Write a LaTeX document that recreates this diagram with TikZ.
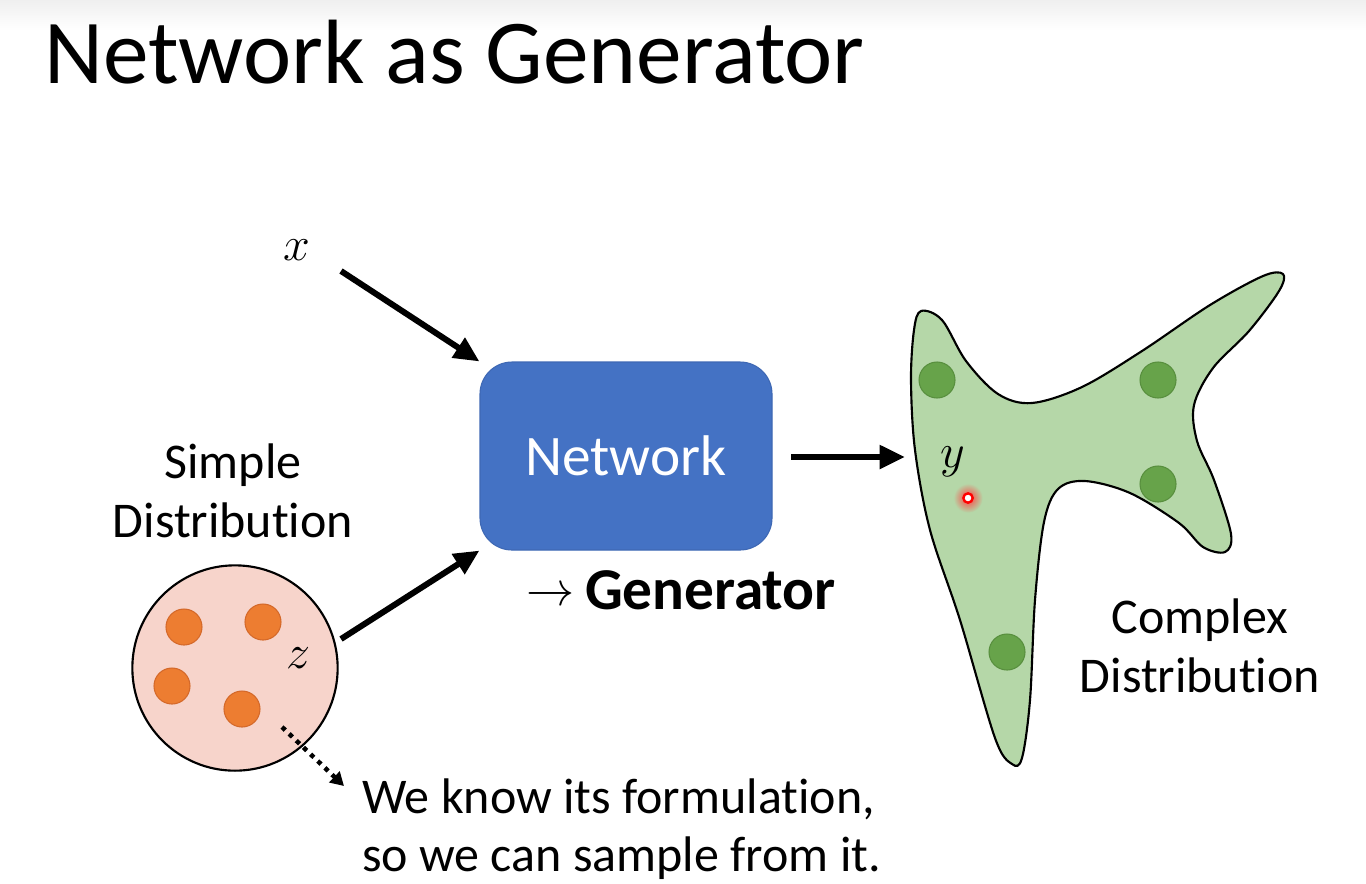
\documentclass[tikz,border=0pt]{standalone}
\usepackage{graphicx}
\usepackage{fontspec}
\setmainfont[Ligatures=NoCommon]{Carlito}
\usetikzlibrary{arrows.meta}

\definecolor{netblue}{HTML}{4472C4}
\definecolor{netedge}{HTML}{3E68B4}
\definecolor{pinkfill}{HTML}{F7D4CB}
\definecolor{orangedot}{HTML}{ED7D31}
\definecolor{orangeedge}{HTML}{D4692A}
\definecolor{greenfill}{HTML}{B5D7A8}
\definecolor{greendot}{HTML}{67A34A}
\definecolor{greenedge}{HTML}{588F3E}
\definecolor{bandgray}{HTML}{EFEFEF}

% math letters drawn larger than the fixed-size math fonts allow
\newcommand{\bigmath}[1]{\scalebox{1.45}{\fontsize{24.88}{26}\selectfont$#1$}}

\tikzset{
  bigarrow/.style={line width=4.5pt, -{Triangle[length=19pt,width=17pt]}},
  dotarrow/.style={line width=3.4pt, dash pattern=on 3.4pt off 4pt, -{Triangle[length=10pt,width=11pt]}},
  bodytext/.style={font=\fontsize{37.5}{44}\selectfont, inner sep=0pt},
  mathlabel/.style={inner sep=0pt},
  orangedotstyle/.style={circle, fill=orangedot, draw=orangeedge, line width=0.8pt, minimum size=27pt, inner sep=0pt},
  greendotstyle/.style={circle, fill=greendot, draw=greenedge, line width=0.8pt, minimum size=27pt, inner sep=0pt},
}

\begin{document}
\begin{tikzpicture}[x=0.75pt, y=-0.75pt]
  % page and the light band along its top edge
  \useasboundingbox (0,0) rectangle (1366,883);
  \fill[white] (0,0) rectangle (1366,883);
  \shade[top color=bandgray, bottom color=white] (0,0) rectangle (1366,30);

  % title
  \node[anchor=base west, inner sep=0pt, font=\fontsize{68.5}{70}\selectfont] (title) at (44,83) {Network as Generator};

  % the network block
  \node[rounded corners=24pt, fill=netblue, draw=netedge, line width=0.8pt,
        minimum width=219pt, minimum height=141pt, inner sep=0pt,
        text=white, font=\fontsize{43}{45}\selectfont] (net) at (626,456) {Network};
  \node[anchor=base west, inner sep=0pt, font=\fontsize{44.5}{46}\selectfont] (gen) at (526,609)
       {\raisebox{3pt}{\scalebox{1.45}{\fontsize{24.88}{26}\selectfont$\rightarrow$}}\hspace{8pt}\textbf{Generator}};

  % input x
  \node[mathlabel] (x) at (297,250) {\bigmath{x}};
  \coordinate (xstart) at (341,271);
  \draw[bigarrow] (xstart) -- (net.north west);

  % simple distribution
  \node[bodytext, align=center] (simple) at (233,491) {Simple\\Distribution};
  \node[circle, fill=pinkfill, draw=black, line width=1.6pt, minimum size=154pt, inner sep=0pt] (dist) at (235,668) {};
  \node[orangedotstyle] (o1) at (184,627) {};
  \node[orangedotstyle] (o2) at (263,622) {};
  \node[orangedotstyle] (o3) at (172,686) {};
  \node[orangedotstyle] (o4) at (242,709) {};
  \node[mathlabel] (z) at (299,658) {\bigmath{z}};
  \coordinate (zstart) at (341,639);
  \draw[bigarrow] (zstart) -- (net.south west);

  % note on sampling
  \coordinate (dotstart) at (282,727);
  \coordinate (dotend) at (344,786);
  \node[bodytext, align=left, anchor=north west] (note) at (362,778)
       {We know its formulation,\\so we can sample from it.};
  \draw[dotarrow] (dotstart) -- (dotend);

  % output arrow
  \coordinate (outstart) at (791,457);
  \coordinate (outend) at (905,457);
  \draw[bigarrow] (outstart) -- (outend);

  % complex distribution
  \draw[fill=greenfill, line width=1.6pt, line join=round]
    plot[smooth cycle, tension=0.55] coordinates {
      (921,311) (942,320) (966,361) (998,394) (1032,403) (1082,387)
      (1142,351) (1210,305) (1263,276) (1283,274) (1279,291) (1249,331)
      (1213,368) (1194,405) (1197,441) (1214,480) (1231,534) (1225,552)
      (1203,547) (1179,523) (1130,493) (1085,481) (1058,489) (1044,522)
      (1035,600) (1030,700) (1022,758) (1012,764) (995,738) (960,620)
      (930,530) (915,450) (911,380) (914,330)
    };
  \node[greendotstyle] (g1) at (937,380) {};
  \node[greendotstyle] (g2) at (1158,380) {};
  \node[greendotstyle] (g3) at (1158,484) {};
  \node[greendotstyle] (g4) at (1007,652) {};
  \node[mathlabel] (y) at (953,462) {\bigmath{y}};

  % sampled point with its glow
  \shade[inner color=red!75, outer color=greenfill] (968,498) circle (11pt);
  \node[circle, fill=white, draw=red, line width=1.8pt, minimum size=7pt, inner sep=0pt] (ypt) at (968,498) {};

  \node[bodytext, align=center] (complex) at (1200,646) {Complex\\Distribution};
\end{tikzpicture}
\end{document}
